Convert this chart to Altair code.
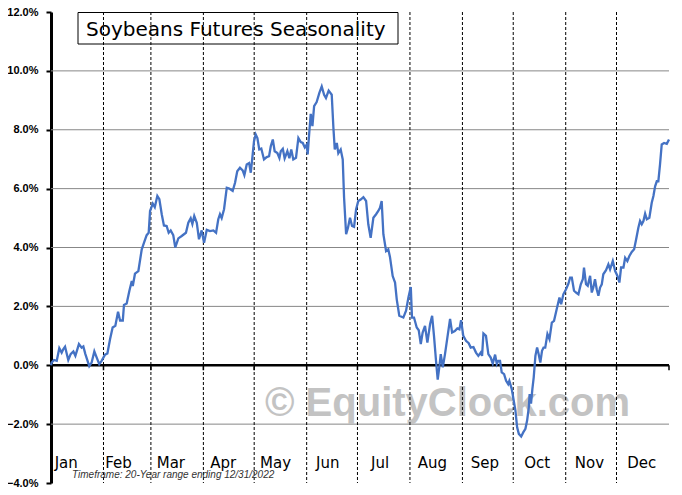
import altair as alt
import pandas as pd

# ---------------- data ----------------
months = ["Jan", "Feb", "Mar", "Apr", "May", "Jun", "Jul", "Aug", "Sep", "Oct", "Nov", "Dec"]
month_start = [0, 31, 59, 90, 120, 151, 181, 212, 243, 273, 304, 334]
year_end = 365
grid_levels = [10, 8, 6, 4, 2, -2]
y_ticks = [-4, -2, 0, 2, 4, 6, 8, 10, 12]

title_text = "Soybeans Futures Seasonality"
footer_text = "Timeframe: 20-Year range ending 12/31/2022"
watermark_text = "\u00a9 EquityClock.com"

# day of year (0 = Jan 1) and average seasonal change in percent
day = [
    0, 0.4, 1.8, 3.4, 4.9, 6.3, 7.3, 8.3, 10.2, 11.6, 13.2, 14.4, 16.5, 18.1, 19.1, 20.3, 22.6, 24.0, 25.6, 27.0, 28.5, 29.9,
    31.9, 33.3, 34.9, 36.4, 38.0, 39.6, 40.8, 42.4, 43.1, 44.7, 46.3, 47.7, 48.3, 49.6, 51.6, 53.6, 54.9, 56.5, 57.7,
    58.5, 60.1, 61.3, 62.8, 64.0, 65.4, 66.7, 68.3, 69.5, 70.7, 72.2, 73.4, 75.2, 77.2, 79.7, 81.1, 82.5, 83.5, 84.6, 86.1, 87.4,
    89.0, 90.4, 92.0, 93.9, 95.9, 97.5, 98.8, 99.8, 100.8, 102.2, 103.8, 105.3, 107.3, 108.7, 110.0, 111.6, 113.2, 114.2, 115.6, 117.0, 118.0, 118.7,
    119.9, 120.9, 121.9, 123.0, 124.2, 125.8, 127.4, 128.8, 129.8, 131.0, 132.1, 133.7, 134.9, 135.7, 136.9, 138.0, 139.6, 140.8, 141.9, 143.1, 144.7, 146.1, 147.5, 148.7, 149.9,
    151.0, 151.6, 152.6, 153.4, 154.4, 155.4, 156.9, 158.5, 159.9, 161.3, 162.4, 164.0, 165.8, 166.8, 167.6, 168.8, 169.7, 171.1, 172.3, 173.1, 174.3, 175.4, 176.6, 177.8, 179.0,
    180.2, 181.5, 182.9, 184.5, 186.1, 187.4, 188.8, 190.4, 192.0, 193.3, 194.3, 195.3, 196.3, 197.9, 199.2, 200.2, 201.8, 203.2, 204.2, 205.7, 208.1, 209.7,
    211.1, 212.5, 213.2, 214.4, 216.0, 217.2, 218.4, 219.5, 220.9, 222.3, 223.9, 225.1, 226.2, 227.4, 228.4, 229.4, 230.2, 231.4, 232.7, 234.1, 235.7, 236.9, 238.5, 240.0, 241.2,
    242.2, 243.5, 245.1, 246.7, 247.9, 249.5, 251.0, 252.4, 253.8, 254.6, 255.4, 256.9, 258.3, 259.7, 260.9, 262.3, 263.3, 264.2, 265.2, 266.2, 267.6, 268.8, 270.0, 270.7,
    272.1, 273.3, 274.3, 275.3, 276.3, 277.7, 278.9, 280.2, 281.2, 282.2, 282.7, 283.5, 284.3, 285.1, 286.1, 287.1, 288.0, 289.0, 290.0, 290.9, 291.9, 293.2, 294.4, 295.8, 297.1, 298.7, 300.3, 301.3, 302.6,
    304.2, 305.6, 306.6, 307.6, 308.9, 310.1, 311.5, 312.9, 314.1, 314.8, 316.0, 317.0, 318.4, 319.4, 320.3, 321.3, 322.3, 323.3, 324.3, 325.3, 326.2, 327.8, 329.2, 330.2, 331.8, 333.2,
    334.5, 335.7, 336.7, 338.1, 339.1, 340.4, 341.6, 343.0, 344.4, 345.6, 346.9, 347.9, 348.9, 349.9, 350.9, 351.9, 353.4, 354.8, 355.8, 356.8, 357.8, 358.7, 359.7, 360.7, 362.1, 363.7, 365.0,
]
pct = [
    0.0, 0.09, 0.18, 0.15, 0.58, 0.43, 0.55, 0.63, 0.18, 0.38, 0.47, 0.32, 0.72, 0.60, 0.64, 0.38, -0.03, 0.09, 0.47, 0.26, 0.04, 0.15,
    0.36, 0.40, 0.89, 1.28, 1.34, 1.82, 1.52, 1.52, 2.05, 2.10, 2.53, 2.86, 2.69, 3.11, 3.20, 3.94, 4.16, 4.42, 4.50,
    5.24, 5.49, 5.37, 5.75, 5.64, 5.13, 4.75, 4.73, 4.50, 4.58, 4.42, 4.00, 4.31, 4.39, 4.50, 4.84, 4.99, 4.80, 5.07, 4.84, 4.28,
    4.58, 4.16, 4.60, 4.56, 4.58, 4.50, 4.96, 5.13, 5.00, 5.30, 6.03, 6.00, 5.92, 6.20, 6.59, 6.71, 6.62, 6.46, 6.82, 6.87, 6.54, 6.93,
    7.61, 7.84, 7.72, 7.33, 7.36, 6.99, 7.07, 7.10, 7.44, 7.67, 7.27, 7.21, 7.04, 7.27, 7.35, 7.03, 7.27, 7.03, 7.33, 6.99, 7.05, 7.72, 7.58, 7.55, 7.40,
    7.49, 7.16, 7.95, 8.54, 8.12, 8.80, 8.94, 9.25, 9.47, 9.19, 9.08, 9.33, 9.19, 8.06, 7.33, 7.55, 7.20, 7.33, 6.99, 5.69, 4.45, 4.67, 5.01, 4.73, 4.70,
    5.30, 5.58, 5.63, 5.71, 5.58, 4.79, 4.33, 5.01, 5.13, 5.24, 5.35, 5.58, 4.45, 3.88, 3.94, 3.68, 3.03, 2.81, 2.24, 1.68, 1.62, 1.85,
    2.30, 2.66, 1.62, 1.62, 1.28, 1.19, 0.72, 1.11, 1.34, 0.77, 1.40, 1.68, 1.00, 0.15, -0.49, -0.04, 0.38, -0.07, 0.38, 0.94, 1.57, 1.11, 1.16, 1.25, 1.22,
    1.53, 1.00, 0.83, 0.75, 0.60, 0.62, 0.43, 0.32, 0.43, 0.32, 1.08, 1.00, 0.38, 0.26, 0.06, 0.36, 0.04, 0.15, 0.15, -0.24, -0.30, -0.53, -0.64, -0.53,
    -0.80, -1.20, -1.54, -2.11, -2.33, -2.42, -2.28, -2.16, -1.88, -1.43, -0.98, -1.30, -0.81, -0.41, 0.32, 0.60, 0.38, 0.09, 0.49, 0.60, 0.60, 1.06, 0.89, 1.45, 1.51, 1.91, 2.30, 2.07, 2.41,
    2.58, 2.77, 2.98, 2.98, 2.53, 2.47, 2.41, 2.75, 2.92, 3.32, 2.75, 2.70, 3.04, 2.47, 2.64, 2.92, 2.58, 2.36, 2.64, 2.75, 3.09, 3.23, 3.43, 3.26, 3.54, 3.20,
    3.04, 2.81, 3.32, 3.32, 3.65, 3.54, 3.71, 3.85, 3.94, 4.28, 4.67, 4.90, 4.79, 4.90, 5.15, 4.96, 5.01, 5.52, 5.75, 6.08, 6.25, 6.25, 6.82, 7.50, 7.55, 7.52, 7.67,
]
assert len(day) == len(pct)

# ---------------- tables ----------------
series = pd.DataFrame({"day": day, "pct": pct})
dividers = pd.DataFrame({"start": month_start[1:]})
ticks = pd.DataFrame({"tick_day": month_start[1:] + [year_end]})
labels = pd.DataFrame({"month": months, "label_day": [9 + i * 30.9 for i in range(12)]})
grid = pd.DataFrame({"level": grid_levels})
one = pd.DataFrame({"t": [title_text], "f": [footer_text], "w": [watermark_text]})

xscale = alt.Scale(domain=[0, year_end], nice=False, zero=False)
yscale = alt.Scale(domain=[-4, 12], nice=False, zero=False)
yaxis = alt.Axis(
    values=y_ticks, labelExpr="format(datum.value, '.1f') + '%'", title=None,
    grid=False, domainColor="black", domainWidth=3, tickColor="black",
    tickWidth=2, tickSize=5, labelFont="Liberation Sans", labelFontWeight="bold",
    labelFontSize=11, labelColor="black", labelPadding=8,
)

watermark = alt.Chart(one).mark_text(
    align="left", baseline="alphabetic", font="Liberation Sans", fontWeight="bold",
    fontSize=40, color="#c3c3c3"
).encode(x=alt.value(214), y=alt.value(404), text="w:N")

gridlines = alt.Chart(grid).mark_rule(color="#878787", strokeWidth=1).encode(
    y=alt.Y("level:Q", scale=yscale, axis=yaxis)
)

divlines = alt.Chart(dividers).mark_rule(color="black", strokeWidth=1, strokeDash=[3, 2]).encode(
    x=alt.X("start:Q", scale=xscale, axis=None)
)

zero_line = alt.Chart(one).mark_rule(color="black", strokeWidth=2.5).encode(
    y=alt.datum(0)
)

month_ticks = alt.Chart(ticks).mark_rule(color="black", strokeWidth=1.5).encode(
    x=alt.X("tick_day:Q", scale=xscale, axis=None),
    y=alt.datum(0),
    y2=alt.datum(-0.17),
)

line = alt.Chart(series).mark_line(color="#4472C4", strokeWidth=2.3).encode(
    x=alt.X("day:Q", scale=xscale, axis=None),
    y=alt.Y("pct:Q", scale=yscale, axis=yaxis),
)

month_labels = alt.Chart(labels).mark_text(
    align="center", baseline="alphabetic", font="DejaVu Sans", fontSize=15, color="black"
).encode(x=alt.X("label_day:Q", scale=xscale, axis=None), y=alt.value(456), text="month:N")

title_box = alt.Chart(one).mark_rect(fillOpacity=0, stroke="black", strokeWidth=1).encode(
    x=alt.value(27), x2=alt.value(347), y=alt.value(0.5), y2=alt.value(32)
)
title_label = alt.Chart(one).mark_text(
    align="left", baseline="alphabetic", font="DejaVu Sans", fontSize=20, color="black"
).encode(x=alt.value(35), y=alt.value(24), text="t:N")

footer = alt.Chart(one).mark_text(
    align="left", baseline="alphabetic", font="Liberation Sans", fontStyle="italic",
    fontSize=10, color="#333333"
).encode(x=alt.value(21), y=alt.value(466), text="f:N")

chart = alt.layer(
    gridlines, watermark, divlines, zero_line, month_ticks, line,
    month_labels, title_box, title_label, footer
).properties(
    width=618, height=471,
    padding={"left": 43, "top": 4, "right": 5, "bottom": 4},
    autosize="none", background="white",
).configure_view(strokeWidth=0)

chart.save("out.html", embed_options={"renderer": "svg", "actions": False})
